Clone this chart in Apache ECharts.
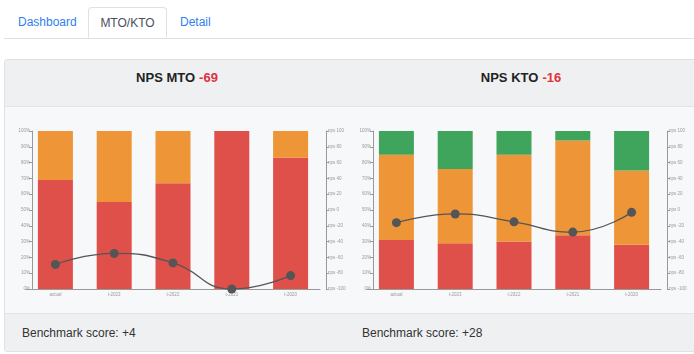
<!DOCTYPE html>
<html>
<head>
<meta charset="utf-8">
<script src="https://cdn.jsdelivr.net/npm/echarts@6/dist/echarts.min.js"></script>
<style>
  body { margin: 0; width: 694px; height: 354px; background: #fff; font-family: "Liberation Sans", Arial, sans-serif; position: relative; overflow: hidden; }
  .tabs { position: absolute; left: 4px; top: 0; width: 690px; height: 38px; border-bottom: 1px solid #dee2e6; }
  .tab { position: absolute; top: 7px; height: 31px; line-height: 30px; font-size: 12px; color: #2f7ff0; }
  .tab.active { border: 1px solid #dee2e6; border-bottom: 1px solid #fff; background: #fff; color: #495057; border-radius: 4px 4px 0 0; height: 31px; box-sizing: border-box; top: 7px; line-height: 30px; }
  .card { position: absolute; left: 4px; top: 59px; width: 692px; height: 293px; border: 1px solid #dfe1e4; border-radius: 3px; background: #f7f8fa; box-sizing: border-box; overflow: hidden; }
  .head { position: absolute; left: 0; top: 0; width: 100%; height: 46px; background: #eff0f2; border-bottom: 1px solid #e2e4e7; }
  .foot { position: absolute; left: 0; top: 253px; width: 100%; height: 40px; background: #eff0f2; border-top: 1px solid #e2e4e7; }
  .title { position: absolute; top: 10px; width: 344px; text-align: center; font-size: 13px; font-weight: bold; color: #222; }
  .title span { color: #e0313e; margin-left: 4px; }
  .bench { position: absolute; top: 12px; font-size: 12px; color: #333; }
  .chart { position: absolute; top: 46px; width: 344px; height: 207px; }
</style>
</head>
<body>
<div class="tabs">
  <div class="tab" style="left:14px;">Dashboard</div>
  <div class="tab active" style="left:84px;width:79px;text-align:center;">MTO/KTO</div>
  <div class="tab" style="left:176px;">Detail</div>
</div>
<div class="card">
  <div class="head">
    <div class="title" style="left:0;">NPS MTO<span>-69</span></div>
    <div class="title" style="left:344px;">NPS KTO<span>-16</span></div>
  </div>
  <div id="c1" class="chart" style="left:0;"></div>
  <div id="c2" class="chart" style="left:344px;"></div>
  <div class="foot">
    <div class="bench" style="left:17px;">Benchmark score: +4</div>
    <div class="bench" style="left:357px;">Benchmark score: +28</div>
  </div>
</div>
<script>
var categories = ['actual', 't-2023', 't-2022', 't-2021', 't-2020'];

// MTO
var mtoDetractors = [69, 55, 67, 100, 83];
var mtoPassives = [31, 45, 33, 0, 17];
var mtoPromoters = [0, 0, 0, 0, 0];
var mtoNps = [-69, -55, -67, -100, -83];

// KTO
var ktoDetractors = [31, 29, 30, 34, 28];
var ktoPassives = [54, 47, 55, 60, 47];
var ktoPromoters = [15, 24, 15, 6, 25];
var ktoNps = [-16, -5, -15, -28, -3];

function makeOption(det, pas, pro, nps, gridLeft) {
  var lbl = { fontSize: 4.5, color: '#999', margin: 2 };
  var axisLine = { show: true, lineStyle: { color: '#999', width: 1 } };
  var barBase = { type: 'bar', stack: 'p', barWidth: 35 };
  return {
    animation: false,
    grid: { left: gridLeft, top: 25, width: 294, height: 158 },
    xAxis: {
      type: 'category',
      data: categories,
      axisLine: axisLine,
      axisTick: { alignWithLabel: true, length: 2, lineStyle: { color: '#999' } },
      axisLabel: { fontSize: 4.5, color: '#999', margin: 3 }
    },
    yAxis: [
      {
        type: 'value', min: 0, max: 100, interval: 10, offset: -6,
        axisLine: axisLine,
        axisTick: { show: true, length: 3, lineStyle: { color: '#999' } },
        splitLine: { show: false },
        axisLabel: Object.assign({ formatter: '{value}%' }, lbl)
      },
      {
        type: 'value', min: -100, max: 100, interval: 20, offset: 6, position: 'right',
        axisLine: axisLine,
        axisTick: { show: true, length: 3, lineStyle: { color: '#999' } },
        splitLine: { show: false },
        axisLabel: Object.assign({ formatter: 'nps {value}' }, lbl)
      }
    ],
    series: [
      Object.assign({ data: det, color: '#e0504a' }, barBase),
      Object.assign({ data: pas, color: '#ee9537' }, barBase),
      Object.assign({ data: pro, color: '#3fa45c' }, barBase),
      {
        type: 'line', yAxisIndex: 1, data: nps, smooth: true,
        symbol: 'circle', symbolSize: 9,
        lineStyle: { color: '#555', width: 1.3 },
        itemStyle: { color: '#555' }, z: 5
      }
    ]
  };
}

var c1 = echarts.init(document.getElementById('c1'));
c1.setOption(makeOption(mtoDetractors, mtoPassives, mtoPromoters, mtoNps, 21));
var c2 = echarts.init(document.getElementById('c2'));
c2.setOption(makeOption(ktoDetractors, ktoPassives, ktoPromoters, ktoNps, 18));
</script>
</body>
</html>
